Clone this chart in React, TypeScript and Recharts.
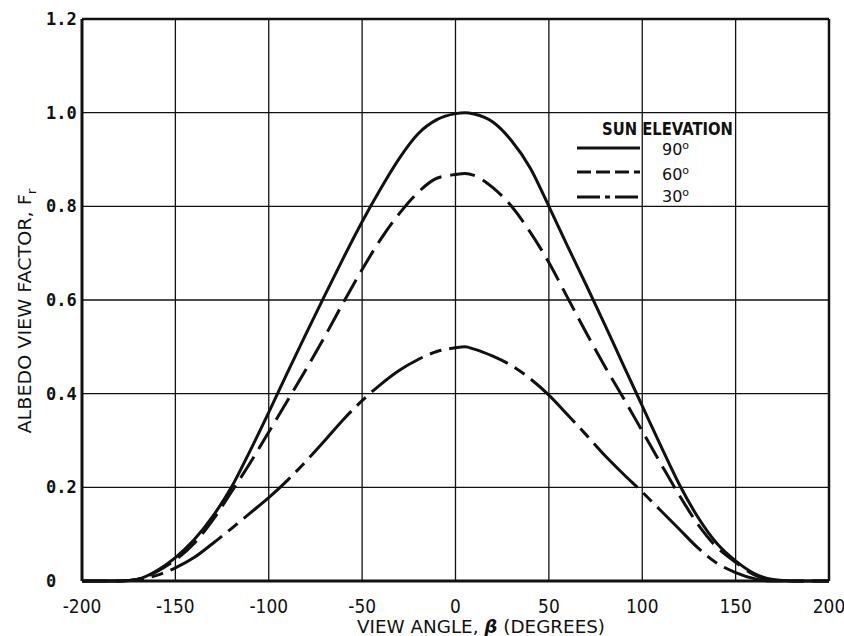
import { CartesianGrid, Legend, Line, LineChart, ReferenceLine, XAxis, YAxis } from "recharts";

// view angle (deg) shared by all three curves
const ANGLES = [
  -200, -180, -170, -160, -150, -140, -130, -120, -110, -100, -90, -80, -70, -60, -50, -40, -30, -20, -10, 0, 5,
  10, 20, 30, 40, 50, 60, 70, 80, 90, 100, 110, 120, 130, 140, 150, 160, 170, 180, 200,
];

// albedo view factor F_r for each sun elevation
const SUN_90 = [
  0, 0, 0.004, 0.022, 0.05, 0.088, 0.138, 0.2, 0.278, 0.36, 0.445, 0.528, 0.61, 0.69, 0.767, 0.838, 0.903, 0.955,
  0.985, 0.998, 1.0, 0.997, 0.98, 0.94, 0.882, 0.8, 0.715, 0.632, 0.547, 0.46, 0.374, 0.288, 0.205, 0.135, 0.08,
  0.043, 0.016, 0.003, 0, 0,
];
const SUN_60 = [
  0, 0, 0.004, 0.02, 0.045, 0.08, 0.13, 0.19, 0.252, 0.318, 0.385, 0.452, 0.522, 0.595, 0.665, 0.73, 0.785, 0.83,
  0.86, 0.868, 0.87, 0.866, 0.84, 0.8, 0.745, 0.68, 0.605, 0.53, 0.458, 0.39, 0.32, 0.25, 0.182, 0.12, 0.072, 0.04,
  0.013, 0.002, 0, 0,
];
const SUN_30 = [
  0, 0, 0.003, 0.012, 0.028, 0.05, 0.08, 0.112, 0.145, 0.178, 0.215, 0.256, 0.3, 0.345, 0.385, 0.42, 0.45, 0.473,
  0.49, 0.498, 0.5, 0.495, 0.48, 0.46, 0.432, 0.397, 0.355, 0.312, 0.268, 0.228, 0.19, 0.15, 0.11, 0.07, 0.038,
  0.018, 0.005, 0, 0, 0,
];

const X_TICKS = [-200, -150, -100, -50, 0, 50, 100, 150, 200];
const Y_TICKS = [0, 0.2, 0.4, 0.6, 0.8, 1.0, 1.2];

const rows = ANGLES.map((angle, i) => ({ angle, s90: SUN_90[i], s60: SUN_60[i], s30: SUN_30[i] }));

const INK = "#111";
const SANS = "'DejaVu Sans', Verdana, sans-serif";
const MONO = "'DejaVu Sans Mono', 'Liberation Mono', monospace";

function XTick({ x, payload }: { x?: number; payload?: { value: number } }) {
  return (
    <text
      transform={`translate(${x},613) scale(0.85,1)`}
      textAnchor="middle"
      fontFamily={SANS}
      fontSize={20}
      fill={INK}
    >
      {payload?.value}
    </text>
  );
}

function YTick({ y, payload }: { y?: number; payload?: { value: number } }) {
  const v = payload?.value ?? 0;
  return (
    <text x={46} y={(y ?? 0) + 6} fontFamily={MONO} fontSize={17} fontWeight="bold" fill={INK}>
      {v === 0 ? "0" : v.toFixed(1)}
    </text>
  );
}

function Degrees({ x, y, value }: { x: number; y: number; value: string }) {
  return (
    <text x={x} y={y} fontFamily={SANS} fontSize={16} fill={INK}>
      {value}
      <tspan fontSize={11} dy={-6}>
        o
      </tspan>
    </text>
  );
}

function SunLegend() {
  return (
    <svg width={200} height={95} style={{ display: "block" }}>
      <text x={42} y={20} fontFamily={SANS} fontSize={17} fontWeight="bold" fill={INK} textLength={131} lengthAdjust="spacingAndGlyphs">
        SUN ELEVATION
      </text>
      <line x1={17} y1={33} x2={80} y2={33} stroke={INK} strokeWidth={3} />
      <line x1={17} y1={57} x2={80} y2={57} stroke={INK} strokeWidth={3} strokeDasharray="14 5" />
      <line x1={17} y1={82} x2={80} y2={82} stroke={INK} strokeWidth={3} strokeDasharray="23 5 5 5" />
      <Degrees x={102} y={40} value="90" />
      <Degrees x={102} y={65} value="60" />
      <Degrees x={102} y={87} value="30" />
    </svg>
  );
}

export default function App() {
  return (
    <div style={{ position: "absolute", left: 0, top: 0, width: 844, height: 636, background: "#fff" }}>
      <LineChart width={844} height={636} data={rows} margin={{ top: 19, right: 15, left: 0, bottom: 0 }}>
        <CartesianGrid stroke={INK} strokeWidth={1.3} />
        <XAxis
          type="number"
          dataKey="angle"
          domain={[-200, 200]}
          ticks={X_TICKS}
          height={55}
          tickLine={false}
          axisLine={{ stroke: INK, strokeWidth: 3 }}
          tick={<XTick />}
        />
        <YAxis
          type="number"
          domain={[0, 1.2]}
          ticks={Y_TICKS}
          width={82}
          tickLine={false}
          axisLine={{ stroke: INK, strokeWidth: 3 }}
          tick={<YTick />}
        />
        <ReferenceLine y={1.2} stroke={INK} strokeWidth={2.5} />
        <ReferenceLine x={200} stroke={INK} strokeWidth={2.5} />
        <Line type="monotone" dataKey="s90" stroke={INK} strokeWidth={3} dot={false} isAnimationActive={false} />
        <Line
          type="monotone"
          dataKey="s60"
          stroke={INK}
          strokeWidth={3}
          strokeDasharray="25 9"
          dot={false}
          isAnimationActive={false}
        />
        <Line
          type="monotone"
          dataKey="s30"
          stroke={INK}
          strokeWidth={3}
          strokeDasharray="62 8 12 8"
          dot={false}
          isAnimationActive={false}
        />
        <Legend
          layout="horizontal"
          verticalAlign="middle"
          align="center"
          content={() => <SunLegend />}
          wrapperStyle={{ position: "absolute", left: 560, top: 115, width: 200, height: 95 }}
        />
      </LineChart>
      <svg width={844} height={636} style={{ position: "absolute", left: 0, top: 0, pointerEvents: "none" }}>
        <text
          transform="translate(31,311) rotate(-90)"
          textAnchor="middle"
          fontFamily={SANS}
          fontSize={18}
          fill={INK}
          textLength={245}
          lengthAdjust="spacingAndGlyphs"
        >
          ALBEDO VIEW FACTOR, F
          <tspan fontSize={13} dy={5}>
            r
          </tspan>
        </text>
        <text
          x={481}
          y={633}
          textAnchor="middle"
          fontFamily={SANS}
          fontSize={18}
          fill={INK}
          textLength={248}
          lengthAdjust="spacingAndGlyphs"
        >
          VIEW ANGLE,{" "}
          <tspan fontWeight="bold" fontStyle="italic">
            β
          </tspan>{" "}
          (DEGREES)
        </text>
      </svg>
    </div>
  );
}
